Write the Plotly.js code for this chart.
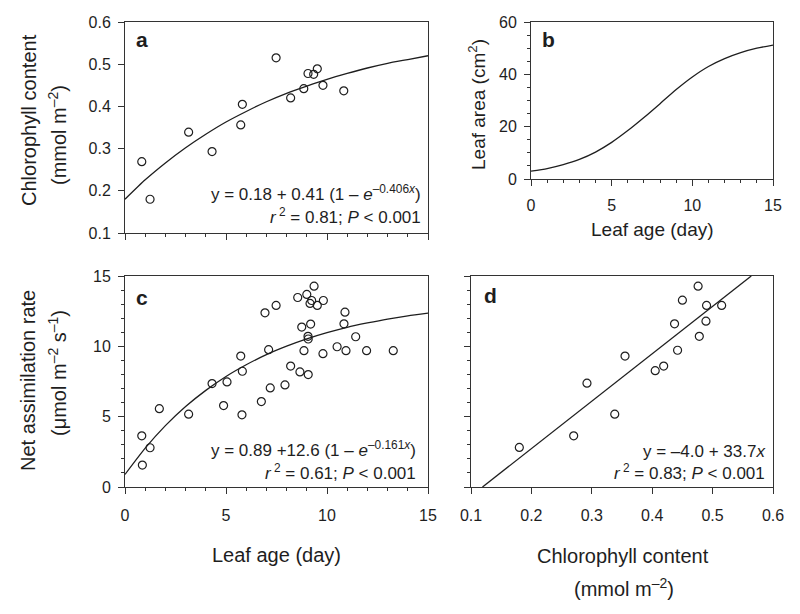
<!DOCTYPE html>
<html>
<head>
<meta charset="utf-8">
<script src="https://cdn.plot.ly/plotly-3.0.1.min.js"></script>
<style>html,body{margin:0;padding:0;background:#fff;}</style>
</head>
<body>
<div id="chart" style="width:800px;height:614px;"></div>
<script>
// ---- Panel a: chlorophyll content vs leaf age ----
const ageA = [0.83,1.24,3.15,4.31,5.73,5.81,7.48,8.20,8.85,9.06,9.34,9.52,9.80,10.83];
const chlA = [0.269,0.180,0.339,0.293,0.356,0.405,0.515,0.420,0.442,0.478,0.476,0.489,0.450,0.437];
const fitAge = [0,1,2,3,4,5,6,7,8,9,10,11,12,13,14,15];
const fitChlA = [0.180,0.226,0.266,0.302,0.334,0.363,0.388,0.411,0.431,0.448,0.464,0.478,0.491,0.502,0.511,0.520];

// ---- Panel b: leaf area vs leaf age ----
const leafAreaB = [3.0,4.0,5.5,7.5,10.3,14.0,18.5,23.5,28.8,34.2,39.0,43.0,46.0,48.3,50.0,51.2];

// ---- Panel c: net assimilation vs leaf age ----
const ageC = [0.83,0.86,1.24,1.70,3.15,4.31,4.88,5.05,5.73,5.81,5.79,6.75,6.93,7.11,7.19,7.48,7.92,8.20,8.55,8.66,8.75,8.86,9.00,9.07,9.06,9.07,9.19,9.16,9.24,9.36,9.52,9.82,9.80,10.50,10.89,10.84,10.94,11.42,11.96,13.28];
const netC = [3.64,1.56,2.79,5.57,5.18,7.35,5.79,7.47,9.31,8.23,5.13,6.07,12.38,9.76,7.04,12.91,7.26,8.60,13.47,8.18,11.37,9.69,13.69,7.99,10.71,10.52,11.58,13.05,13.26,14.28,12.91,13.26,9.48,9.97,12.43,11.60,9.69,10.68,9.69,9.69];
const fitNetC = [0.89,2.76,4.36,5.72,6.87,7.86,8.69,9.41,10.01,10.53,10.97,11.35,11.66,11.94,12.17,12.36];

// ---- Panel d: net assimilation vs chlorophyll ----
const chlD = [0.180,0.270,0.292,0.338,0.355,0.405,0.419,0.442,0.437,0.450,0.478,0.476,0.490,0.489,0.515];
const netD = [2.81,3.64,7.38,5.18,9.31,8.27,8.60,9.72,11.60,13.28,10.71,14.28,12.91,11.79,12.91];
const lineDx = [0.119,0.564];
const lineDy = [0,15];

const FONT = 'Liberation Sans, Arial, Helvetica, sans-serif';
const INK = '#1e1e1e';
const AX = '#333333';

const marker = {symbol:'circle-open', size:8, color:INK, line:{width:1.2, color:INK}};
const lineStyle = {color:INK, width:1.3, shape:'spline', smoothing:0.6};

const traces = [
  {x:fitAge, y:fitChlA, mode:'lines', line:lineStyle, xaxis:'x', yaxis:'y', hoverinfo:'skip'},
  {x:ageA, y:chlA, mode:'markers', marker:marker, xaxis:'x', yaxis:'y'},
  {x:fitAge, y:leafAreaB, mode:'lines', line:lineStyle, xaxis:'x2', yaxis:'y2'},
  {x:fitAge, y:fitNetC, mode:'lines', line:lineStyle, xaxis:'x3', yaxis:'y3', hoverinfo:'skip'},
  {x:ageC, y:netC, mode:'markers', marker:marker, xaxis:'x3', yaxis:'y3'},
  {x:lineDx, y:lineDy, mode:'lines', line:{color:INK, width:1.3}, xaxis:'x4', yaxis:'y4', hoverinfo:'skip'},
  {x:chlD, y:netD, mode:'markers', marker:marker, xaxis:'x4', yaxis:'y4'}
];

function ax(opts){
  return Object.assign({
    showline:true, linecolor:AX, linewidth:1, mirror:true,
    ticks:'outside', ticklen:6, tickwidth:1, tickcolor:AX,
    showgrid:false, zeroline:false,
    tickfont:{family:FONT, size:16, color:INK},
    ticklabelstandoff:4, fixedrange:true
  }, opts);
}
const minor1 = {dtick:1, ticks:'outside', ticklen:3, tickcolor:AX, tickwidth:1, showgrid:false};
const minor5 = {dtick:5, ticks:'outside', ticklen:3, tickcolor:AX, tickwidth:1, showgrid:false};

function px(x){return x/800;}
function py(y){return 1 - y/614;}

function ann(text, x, y, opts){
  return Object.assign({text:text, x:px(x), y:py(y), xref:'paper', yref:'paper',
    xanchor:'center', yanchor:'middle',
    showarrow:false, font:{family:FONT, size:20, color:INK}}, opts||{});
}
const eqFont = {family:FONT, size:17, color:INK};

const annotations = [
  ann('<b>a</b>', 142, 39, {font:{family:FONT, size:21, color:INK}}),
  ann('<b>b</b>', 548, 39, {font:{family:FONT, size:21, color:INK}}),
  ann('<b>c</b>', 142, 297, {font:{family:FONT, size:21, color:INK}}),
  ann('<b>d</b>', 490, 295, {font:{family:FONT, size:21, color:INK}}),
  // equations
  ann('y = 0.18 + 0.41 (1 – <i>e</i><sup>–0.406<i>x</i></sup>)', 423, 193, {xanchor:'right', font:eqFont}),
  ann('<i>r</i><sup> 2</sup> = 0.81; <i>P</i> < 0.001', 423, 216, {xanchor:'right', font:eqFont}),
  ann('y = 0.89 +12.6 (1 – <i>e</i><sup>–0.161<i>x</i></sup>)', 418, 449, {xanchor:'right', font:eqFont}),
  ann('<i>r</i><sup> 2</sup> = 0.61; <i>P</i> < 0.001', 418, 472, {xanchor:'right', font:eqFont}),
  ann('y = –4.0 + 33.7<i>x</i>', 767, 451, {xanchor:'right', font:eqFont}),
  ann('<i>r</i><sup> 2</sup> = 0.83; <i>P</i> < 0.001', 767, 472, {xanchor:'right', font:eqFont}),
  // axis titles
  ann('Chlorophyll content', 29, 120, {textangle:-90}),
  ann('(mmol m<sup>–2</sup>)', 57, 135, {textangle:-90}),
  ann('Leaf area (cm<sup>2</sup>)', 477, 104, {textangle:-90, font:{family:FONT, size:19, color:INK}}),
  ann('Leaf age (day)', 652, 230, {font:{family:FONT, size:19, color:INK}}),
  ann('Net assimilation rate', 28, 381, {textangle:-90}),
  ann('(μmol m<sup>–2</sup> s<sup>–1</sup>)', 57, 373, {textangle:-90}),
  ann('Leaf age (day)', 276.5, 555),
  ann('Chlorophyll content', 623, 556),
  ann('(mmol m<sup>–2</sup>)', 624, 587)
];

const layout = {
  width:800, height:614,
  margin:{l:0, r:0, t:0, b:0},
  paper_bgcolor:'#ffffff', plot_bgcolor:'#ffffff',
  showlegend:false,
  font:{family:FONT, color:INK},
  xaxis: ax({domain:[px(125), px(428)], range:[0,15], dtick:5, tick0:0, showticklabels:false, minor:minor1, anchor:'y'}),
  yaxis: ax({domain:[py(233), py(22)], range:[0.1,0.6], dtick:0.1, tick0:0.1, tickformat:'.1f', anchor:'x'}),
  xaxis2: ax({domain:[px(531), px(773)], range:[0,15], dtick:5, tick0:0, minor:minor1, anchor:'y2', ticklabelstandoff:6}),
  yaxis2: ax({domain:[py(179), py(22)], range:[0,60], dtick:20, tick0:0, minor:minor5, anchor:'x2'}),
  xaxis3: ax({domain:[px(125), px(428)], range:[0,15], dtick:5, tick0:0, minor:minor1, anchor:'y3', ticklabelstandoff:8}),
  yaxis3: ax({domain:[py(487), py(276)], range:[0,15], dtick:5, tick0:0, minor:minor1, anchor:'x3'}),
  xaxis4: ax({domain:[px(471), px(773)], range:[0.1,0.6], dtick:0.1, tick0:0.1, tickformat:'.1f', anchor:'y4', ticklabelstandoff:8}),
  yaxis4: ax({domain:[py(487), py(276)], range:[0,15], dtick:5, tick0:0, minor:minor1, showticklabels:false, anchor:'x4'}),
  annotations: annotations
};

Plotly.newPlot('chart', traces, layout, {staticPlot:true, displayModeBar:false});
</script>
</body>
</html>
